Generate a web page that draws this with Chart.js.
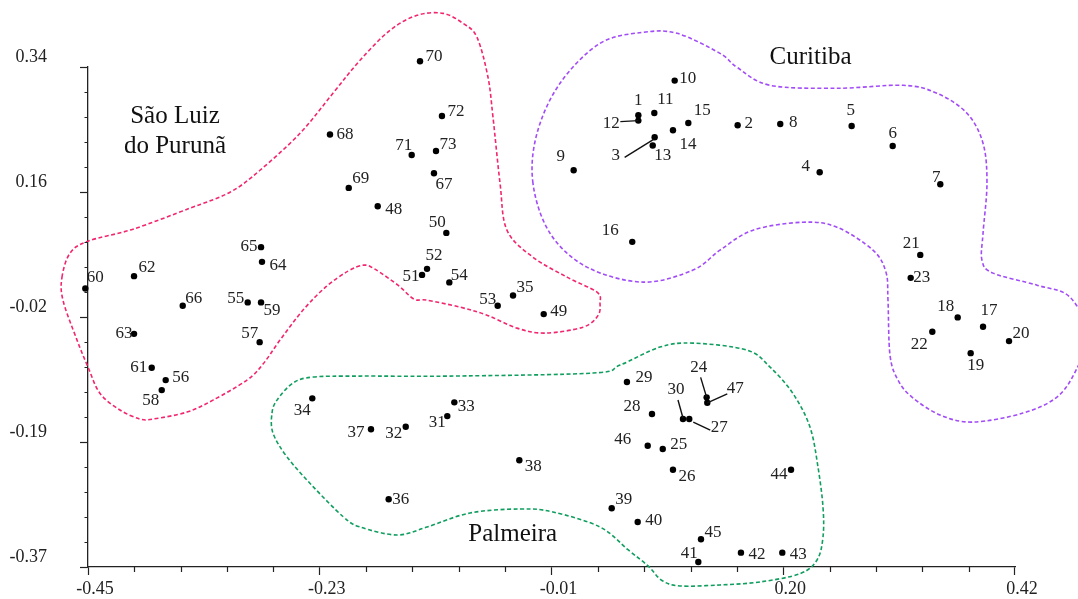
<!DOCTYPE html>
<html>
<head>
<meta charset="utf-8">
<script src="https://cdn.jsdelivr.net/npm/chart.js@4.4.1/dist/chart.umd.min.js"></script>
<style>
  body { margin: 0; background: #fff; }
  #wrap { width: 1078px; height: 599px; }
</style>
</head>
<body>
<div id="wrap"><canvas id="myChart" width="1078" height="599"></canvas></div>
<script>
// sample numbers, coordinates
const pointIds = [1,2,3,4,5,6,7,8,9,10,11,12,13,14,15,16,17,18,19,20,21,22,23,24,25,26,27,28,29,30,
  31,32,33,34,35,36,37,38,39,40,41,42,43,44,45,46,47,48,49,50,51,52,53,54,55,56,57,58,59,60,
  61,62,63,64,65,66,67,68,69,70,71,72,73];
const xValues = [0.0665,0.1597,0.0818,0.2367,0.2667,0.3052,0.3499,0.1997,0.0058,0.1006,
  0.0815,0.0665,0.0800,0.0990,0.1134,0.0608,0.3900,0.3662,0.3784,0.4144,
  0.3311,0.3424,0.3221,0.1306,0.0894,0.0990,0.1143,0.0793,0.0558,0.1084,
  -0.1128,-0.1518,-0.1062,-0.2395,-0.0511,-0.1678,-0.1844,-0.0452,0.0415,0.0659,
  0.1228,0.1628,0.2016,0.2098,0.1253,0.0753,0.1312,-0.1781,-0.0223,-0.1137,
  -0.1365,-0.1318,-0.0655,-0.1109,-0.3001,-0.3771,-0.2889,-0.3808,-0.2876,-0.4525,
  -0.3902,-0.4068,-0.4068,-0.2867,-0.2876,-0.3611,-0.1253,-0.2229,-0.2053,-0.1384,
  -0.1462,-0.1178,-0.1234];
const yValues = [0.2715,0.2573,0.2402,0.1906,0.2563,0.2279,0.1735,0.2591,0.1934,0.3207,
  0.2747,0.2639,0.2285,0.2502,0.2605,0.0917,-0.0289,-0.0156,-0.0663,-0.0492,
  0.0732,-0.0360,0.0406,-0.1291,-0.2025,-0.2319,-0.1599,-0.1528,-0.1074,-0.1599,
  -0.1557,-0.1708,-0.1362,-0.1305,0.0156,-0.2739,-0.1745,-0.2185,-0.2866,-0.3061,
  -0.3628,-0.3496,-0.3496,-0.2319,-0.3306,-0.1978,-0.1368,0.1423,-0.0109,0.1044,
  0.0448,0.0534,0.0009,0.0341,0.0057,-0.1046,-0.0507,-0.1188,0.0057,0.0255,
  -0.0871,0.0430,-0.0389,0.0633,0.0842,0.0009,0.1892,0.2441,0.1683,0.3481,
  0.2151,0.2705,0.2208];

const xTickLabels = ['-0.45', '-0.23', '-0.01', '0.20', '0.42'];
const yTickLabels = ['-0.37', '-0.19', '-0.02', '0.16', '0.34'];

// hand drawn group outlines (data units)
const saoLuizOutline = [[-0.4744,0.0416],[-0.4669,0.0756],[-0.4500,0.0927],[-0.4078,0.1097],[-0.3543,0.1395],
  [-0.3167,0.1622],[-0.2886,0.1934],[-0.2510,0.2459],[-0.2201,0.3027],[-0.1947,0.3495],[-0.1666,0.3921],
  [-0.1412,0.4134],[-0.1168,0.4162],[-0.0981,0.4020],[-0.0849,0.3821],[-0.0746,0.3254],[-0.0699,0.2686],
  [-0.0633,0.1750],[-0.0568,0.1083],[-0.0324,0.0700],[-0.0005,0.0416],[0.0277,0.0203],[0.0305,0.0046],
  [0.0286,-0.0131],[0.0146,-0.0294],[-0.0211,-0.0379],[-0.0474,-0.0308],[-0.0755,-0.0124],[-0.1009,-0.0010],
  [-0.1318,0.0089],[-0.1440,0.0104],[-0.1591,0.0302],[-0.1807,0.0529],[-0.1910,0.0586],[-0.2060,0.0501],
  [-0.2266,0.0280],[-0.2482,-0.0052],[-0.2698,-0.0478],[-0.2858,-0.0819],[-0.3008,-0.1046],[-0.3327,-0.1330],
  [-0.3571,-0.1500],[-0.3890,-0.1599],[-0.4012,-0.1599],[-0.4200,-0.1471],[-0.4387,-0.1236],[-0.4500,-0.0861],
  [-0.4603,-0.0478],[-0.4735,0.0089]];
const curitibaOutline = [[-0.0324,0.1750],[-0.0286,0.2459],[-0.0070,0.3169],[0.0305,0.3736],[0.0709,0.3892],
  [0.1028,0.3878],[0.1431,0.3594],[0.1591,0.3396],[0.1901,0.3140],[0.2529,0.3098],[0.3149,0.3140],
  [0.3468,0.3027],[0.3749,0.2743],[0.3900,0.2317],[0.3937,0.1750],[0.3900,0.1040],[0.3890,0.0657],
  [0.3993,0.0473],[0.4406,0.0302],[0.4716,0.0132],[0.4885,-0.0407],[0.4773,-0.0904],[0.4594,-0.1287],
  [0.4275,-0.1514],[0.3806,-0.1642],[0.3496,-0.1541],[0.3233,-0.1287],[0.3102,-0.1046],[0.3027,-0.0693],
  [0.3008,0.0089],[0.2989,0.0487],[0.2867,0.0799],[0.2529,0.1125],[0.2210,0.1196],[0.1741,0.1083],
  [0.1431,0.0799],[0.1178,0.0516],[0.0709,0.0345],[0.0183,0.0558],[-0.0164,0.1040]];
const palmeiraOutline = [[-0.2388,-0.1003],[-0.1947,-0.0989],[-0.1103,-0.0989],[0.0239,-0.0946],[0.0493,-0.0833],
  [0.0868,-0.0577],[0.1178,-0.0521],[0.1685,-0.0620],[0.1901,-0.0861],[0.2116,-0.1236],[0.2276,-0.1713],
  [0.2351,-0.2280],[0.2398,-0.2848],[0.2398,-0.3274],[0.2342,-0.3600],[0.2182,-0.3795],[0.1807,-0.3912],
  [0.1431,-0.3955],[0.1056,-0.3969],[0.0887,-0.3891],[0.0756,-0.3685],[0.0568,-0.3455],[0.0305,-0.3132],
  [-0.0136,-0.2919],[-0.0446,-0.2876],[-0.0915,-0.2933],[-0.1318,-0.3132],[-0.1600,-0.3245],[-0.1947,-0.3132],
  [-0.2107,-0.2983],[-0.2388,-0.2558],[-0.2632,-0.2138],[-0.2764,-0.1798],[-0.2773,-0.1514],[-0.2726,-0.1330],
  [-0.2576,-0.1088]];

const regions = [
  { lines: ['São Luiz', 'do Purunã'], x: -0.3684, y: 0.2601, outline: saoLuizOutline, color: '#f2266f' },
  { lines: ['Curitiba'], x: 0.2281, y: 0.3438, outline: curitibaOutline, color: '#a24cf7' },
  { lines: ['Palmeira'], x: -0.0514, y: -0.3331, outline: palmeiraOutline, color: '#0f9e5e' }
];

// where each number sits relative to its dot (px)
const labelOffsets = {
  1:[0,-15], 2:[11,-2], 3:[-39,18], 4:[-14,-6], 5:[-1,-15], 6:[0,-12], 7:[-4,-7], 8:[13,-1], 9:[-13,-14], 10:[13,-2],
  11:[11,-13], 12:[-27,3], 13:[10,10], 14:[15,14], 15:[14,-12], 16:[-22,-11], 17:[6,-16], 18:[-12,-11], 19:[5,12], 20:[12,-8],
  21:[-9,-11], 22:[-13,13], 23:[11,0], 24:[-8,-30], 25:[16,-5], 26:[14,7], 27:[30,8], 28:[-20,-8], 29:[17,-5], 30:[-7,-30],
  31:[-10,6], 32:[-12,7], 33:[12,4], 34:[-10,12], 35:[12,-8], 36:[12,0], 37:[-15,3], 38:[14,6], 39:[12,-9], 40:[16,-1],
  41:[-9,-8], 42:[16,2], 43:[16,2], 44:[-12,5], 45:[12,-7], 46:[-25,-6], 47:[28,-14], 48:[16,3], 49:[15,-3], 50:[-9,-10],
  51:[-11,2], 52:[7,-13], 53:[-10,-6], 54:[10,-7], 55:[-12,-4], 56:[15,-3], 57:[-10,-9], 58:[-11,10], 59:[11,8], 60:[10,-11],
  61:[-13,0], 62:[13,-9], 63:[-10,0], 64:[16,4], 65:[-12,-1], 66:[11,-7], 67:[10,11], 68:[15,0], 69:[12,-9], 70:[14,-5],
  71:[-8,-9], 72:[14,-4], 73:[12,-6]
};
const leaders = {
  12: [[-18,1],[0,0]], 3: [[-30,20],[-1,2]], 24: [[-6,-20],[0,0]],
  30: [[-5,-19],[0,-1]], 27: [[4,3],[21,11]], 47: [[0,0],[20,-9]]
};

const serif = "'Liberation Serif', 'Times New Roman', serif";
Chart.defaults.font.family = serif;
Chart.defaults.color = '#222';

function minorTicks(scale, step) {
  const out = [];
  for (let i = 0; i <= 20; i++) out.push({ value: scale.min + i * step });
  scale.ticks = out;
}

function smoothClosed(ctx, pts) {
  const n = pts.length;
  ctx.beginPath();
  ctx.moveTo(pts[0].x, pts[0].y);
  for (let i = 0; i < n; i++) {
    const p0 = pts[(i - 1 + n) % n], p1 = pts[i], p2 = pts[(i + 1) % n], p3 = pts[(i + 2) % n];
    ctx.bezierCurveTo(p1.x + (p2.x - p0.x) / 6, p1.y + (p2.y - p0.y) / 6,
                      p2.x - (p3.x - p1.x) / 6, p2.y - (p3.y - p1.y) / 6, p2.x, p2.y);
  }
  ctx.closePath();
  ctx.stroke();
}

const decorations = {
  id: 'decorations',
  beforeDatasetsDraw(chart) {
    const { ctx } = chart;
    const xs = chart.scales.x, ys = chart.scales.y;
    ctx.save();
    regions.forEach(r => {
      const pts = r.outline.map(p => ({ x: xs.getPixelForValue(p[0]), y: ys.getPixelForValue(p[1]) }));
      ctx.strokeStyle = r.color;
      ctx.lineWidth = 1.6;
      ctx.setLineDash([4, 2.5]);
      smoothClosed(ctx, pts);
    });
    ctx.setLineDash([]);
    ctx.fillStyle = '#111';
    ctx.font = '25px ' + serif;
    ctx.textAlign = 'center';
    ctx.textBaseline = 'alphabetic';
    regions.forEach(r => {
      const x = xs.getPixelForValue(r.x), y = ys.getPixelForValue(r.y);
      r.lines.forEach((t, i) => ctx.fillText(t, x, y + i * 30));
    });
    ctx.restore();
  },
  afterDatasetsDraw(chart) {
    const { ctx } = chart;
    const meta = chart.getDatasetMeta(0);
    ctx.save();
    ctx.fillStyle = '#222';
    ctx.font = '17px ' + serif;
    ctx.textAlign = 'center';
    ctx.textBaseline = 'middle';
    meta.data.forEach((el, i) => {
      const id = pointIds[i];
      const off = labelOffsets[id] || [12, 0];
      ctx.fillText(String(id), el.x + off[0], el.y + off[1]);
      const ld = leaders[id];
      if (ld) {
        ctx.strokeStyle = '#111';
        ctx.lineWidth = 1.4;
        ctx.beginPath();
        ctx.moveTo(el.x + ld[0][0], el.y + ld[0][1]);
        ctx.lineTo(el.x + ld[1][0], el.y + ld[1][1]);
        ctx.stroke();
      }
    });
    ctx.restore();
  },
  afterDraw(chart) {
    // short minor ticks
    const { ctx, chartArea } = chart;
    const xs = chart.scales.x, ys = chart.scales.y;
    ctx.save();
    ctx.strokeStyle = '#222';
    ctx.lineWidth = 1.2;
    ctx.beginPath();
    xs.ticks.forEach((t, i) => {
      if (i % 5 === 0) return;
      const px = Math.round(xs.getPixelForValue(t.value)) + 0.5;
      ctx.moveTo(px, chartArea.bottom);
      ctx.lineTo(px, chartArea.bottom + 5);
    });
    ys.ticks.forEach((t, i) => {
      if (i % 5 === 0) return;
      const py = Math.round(ys.getPixelForValue(t.value)) + 0.5;
      ctx.moveTo(chartArea.left, py);
      ctx.lineTo(chartArea.left - 3.5, py);
    });
    ctx.stroke();
    ctx.restore();
  }
};

new Chart('myChart', {
  type: 'scatter',
  data: {
    datasets: [{
      data: xValues.map((x, i) => ({ x: x, y: yValues[i] })),
      backgroundColor: '#000',
      borderColor: 'rgba(0,0,0,0)',
      borderWidth: 5,
      pointRadius: 3.2,
      clip: false
    }]
  },
  options: {
    responsive: false,
    animation: false,
    devicePixelRatio: 1,
    layout: { padding: { top: 67, right: 63, left: 0, bottom: 0 } },
    plugins: { legend: { display: false }, tooltip: { enabled: false } },
    scales: {
      x: {
        type: 'linear',
        min: -0.45, max: 0.42,
        afterBuildTicks: s => minorTicks(s, 0.87 / 20),
        afterFit: s => { s.height = 32; s.paddingLeft = 0; s.paddingRight = 0; },
        grid: {
          drawOnChartArea: false,
          tickLength: 8,
          tickWidth: 1.2,
          tickColor: c => (c.index % 5 === 0 ? '#222' : 'rgba(0,0,0,0)')
        },
        border: { display: true, color: '#222', width: 1.3 },
        ticks: {
          autoSkip: false,
          maxRotation: 0,
          padding: 3,
          labelOffset: 7,
          color: '#222',
          font: { size: 18 },
          callback: (v, i) => (i % 5 === 0 ? xTickLabels[i / 5] : '')
        }
      },
      y: {
        type: 'linear',
        min: -0.37, max: 0.34,
        afterBuildTicks: s => minorTicks(s, 0.71 / 20),
        afterFit: s => { s.width = 88; s.paddingTop = 0; s.paddingBottom = 0; },
        grid: {
          drawOnChartArea: false,
          tickLength: 8,
          tickWidth: 1.2,
          tickColor: c => (c.index % 5 === 0 ? '#222' : 'rgba(0,0,0,0)')
        },
        border: { display: true, color: '#222', width: 1.3 },
        ticks: {
          autoSkip: false,
          padding: 33,
          labelOffset: -10,
          color: '#222',
          font: { size: 18 },
          callback: (v, i) => (i % 5 === 0 ? yTickLabels[i / 5] : '')
        }
      }
    }
  },
  plugins: [decorations]
});
</script>
</body>
</html>
